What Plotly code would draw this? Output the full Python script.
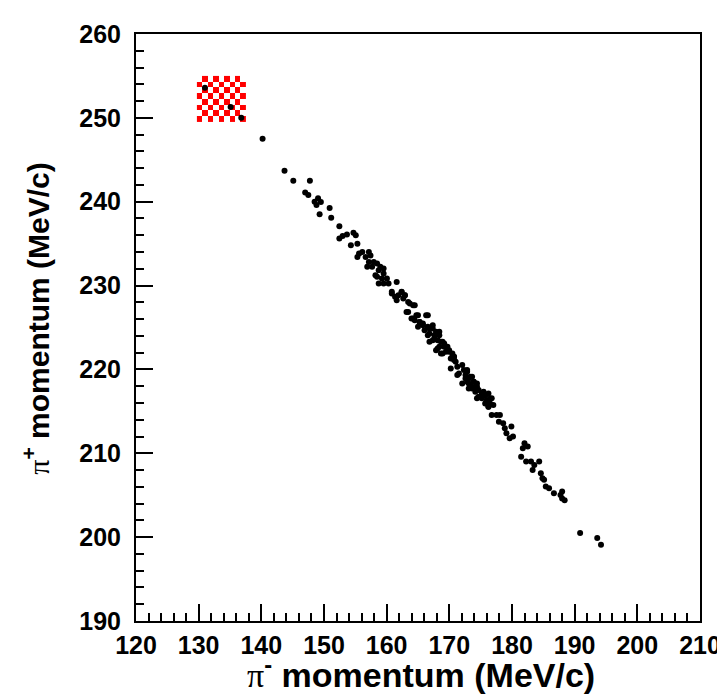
import plotly.graph_objects as go

# pi- momentum (MeV/c) and pi+ momentum (MeV/c)
pi_minus = [
    131.0, 135.1, 136.8, 140.2,
    143.7, 145.1, 147.75, 147.0, 147.5, 149.05, 148.5, 148.8, 149.5, 150.9, 149.3, 151.15, 152.45, 152.97, 152.45,
    153.66, 154.70, 155.07, 154.29, 155.33, 155.59, 156.11, 157.16, 156.64, 157.42, 155.33, 157.16, 157.94, 158.47,
    156.9, 157.68, 158.99, 159.51, 158.73, 158.21, 159.51, 158.47, 159.25, 160.04, 158.73, 159.51, 160.3, 161.6,
    160.82, 162.39, 161.87, 162.91, 161.34,
    162.91, 163.43, 164.22, 163.17, 163.96, 164.74, 164.48, 165.26, 166.57, 165.79, 165.0, 166.05, 166.83, 167.35,
    166.57, 167.62, 167.35, 168.4, 168.14, 168.92, 166.83, 168.4, 169.18, 167.88, 169.45, 168.66, 169.97, 170.49,
    170.75, 170.23,
    170.75, 171.01, 172.06, 172.84, 171.27, 172.58, 173.1, 173.63, 172.84, 173.89, 173.37, 174.15, 174.41, 173.1,
    174.67, 175.46, 175.72, 176.24, 174.41, 175.19, 175.98, 176.76, 175.72, 176.5, 176.24, 176.76, 178.07,
    177.54, 177.91, 178.59, 178.85, 179.11, 179.9, 180.16, 179.63, 181.99, 181.73, 182.51, 181.46, 182.25, 183.03,
    183.56, 183.29, 184.34, 184.6, 184.86, 185.12, 185.39, 185.91, 186.69, 187.74, 188.0,
    188.0, 188.4, 190.87, 193.6, 194.2,
    160.82, 162.38, 161.6, 162.65, 163.69, 164.48, 163.43, 164.21, 165.0, 165.26, 166.3, 165.78, 166.57, 167.35,
    166.83, 167.87, 167.61, 168.4, 168.66, 169.18, 168.13, 169.7, 169.96, 170.49, 168.92, 170.75, 170.23, 171.27,
    171.53, 172.32, 172.84, 172.58, 173.36, 172.06, 173.1, 173.89, 173.62, 174.41, 174.15, 174.67, 175.19, 175.72,
    175.98, 176.5, 177.02, 176.24,
]
pi_plus = [
    253.6, 251.3, 250.0, 247.5,
    243.7, 242.5, 242.5, 241.1, 240.8, 240.4, 240.0, 239.6, 239.96, 239.25, 238.5, 238.1, 237.06, 235.9, 235.6,
    236.08, 236.31, 236.0, 234.8, 235.0, 233.81, 234.0, 234.0, 233.4, 233.6, 233.4, 232.82, 232.82, 232.62,
    232.23, 232.23, 232.23, 232.03, 231.83, 231.23, 231.43, 231.04, 230.84, 230.84, 230.24, 230.24, 230.24, 230.44,
    229.25, 229.25, 228.85, 228.85, 228.66,
    228.85, 228.05, 227.66, 226.86, 226.07, 226.47, 225.87, 225.67, 226.47, 225.27, 225.08, 224.68, 224.88, 225.27,
    224.08, 224.08, 223.49, 224.48, 223.49, 223.29, 223.29, 222.7, 222.7, 222.3, 222.1, 221.9, 222.3, 221.9,
    221.5, 221.3,
    221.51, 220.91, 220.52, 219.92, 219.33, 219.33, 218.93, 219.13, 218.53, 218.53, 218.13, 217.94, 218.33, 217.74,
    217.54, 217.34, 216.94, 217.14, 216.55, 216.55, 216.35, 216.55, 215.95, 215.95, 215.56, 214.56, 214.56,
    214.57, 213.77, 213.57, 212.98, 212.38, 213.18, 211.99, 211.79, 211.19, 210.6, 210.8, 209.6, 209.01, 209.01,
    208.61, 208.02, 209.01, 207.62, 207.03, 206.83, 206.03, 205.84, 205.24, 205.04, 205.44,
    204.6, 204.4, 200.5, 199.9, 199.1,
    229.04, 229.24, 228.25, 228.45, 227.85, 227.66, 226.86, 226.07, 226.47, 225.67, 226.47, 225.47, 225.08, 224.88,
    224.28, 224.48, 223.69, 224.08, 223.29, 223.09, 222.5, 222.7, 222.1, 221.5, 221.9, 221.11, 220.12, 220.31,
    219.52, 219.92, 219.72, 218.93, 219.12, 218.33, 218.33, 218.53, 217.74, 217.93, 217.34, 216.74, 217.14, 216.94,
    216.15, 216.54, 215.75, 215.55,
]

# checkered box region (MeV/c)
box_x = [129.72, 137.56]
box_y = [249.5, 255.0]
box_cols, box_rows = 9, 8

x_range = [120, 210]
y_range = [190, 260]

x_title = "<span style='font-family:Liberation Serif;font-weight:normal'>π</span><sup>-</sup> momentum (MeV/c)"
y_title = "<span style='font-family:Liberation Serif;font-weight:normal'>π</span><sup>+</sup> momentum (MeV/c)"

fig = go.Figure()

dx = (box_x[1] - box_x[0]) / box_cols
dy = (box_y[1] - box_y[0]) / box_rows
z = [[(i + j + 1) % 2 for j in range(box_cols)] for i in range(box_rows)]
fig.add_trace(go.Heatmap(
    z=z, x0=box_x[0] + dx / 2, dx=dx, y0=box_y[0] + dy / 2, dy=dy,
    colorscale=[[0, "white"], [1, "red"]], showscale=False, hoverinfo="skip",
))

fig.add_trace(go.Scatter(
    x=pi_minus, y=pi_plus, mode="markers",
    marker=dict(color="black", size=6),
    showlegend=False,
))

tickfont = dict(family="Liberation Sans", size=25, color="black", weight="bold")

common = dict(
    showgrid=False, zeroline=False, showline=True, linecolor="black", linewidth=2,
    mirror=True, ticks="inside", tickcolor="black", tickwidth=2,
    tickfont=tickfont,
)

fig.update_xaxes(
    range=x_range, dtick=10, ticklen=17, ticklabelstandoff=1,
    minor=dict(dtick=2, ticks="inside", ticklen=8, tickcolor="black", tickwidth=2),
    **common,
)
fig.update_yaxes(
    range=y_range, dtick=10, ticklen=17, ticklabelstandoff=8,
    minor=dict(dtick=2, ticks="inside", ticklen=8, tickcolor="black", tickwidth=2),
    **common,
)

fig.add_annotation(
    text=x_title, xref="paper", yref="paper", x=0.505, y=0,
    xanchor="center", yanchor="bottom", yshift=-75, showarrow=False,
    font=dict(family="Liberation Sans", size=34, color="black", weight="bold"),
)
fig.add_annotation(
    text=y_title, xref="paper", yref="paper", x=0, y=0.515,
    xanchor="center", yanchor="middle", xshift=-100, textangle=-90, showarrow=False,
    font=dict(family="Liberation Sans", size=30, color="black", weight="bold"),
)

fig.update_layout(
    width=725, height=694,
    margin=dict(l=128, r=23, t=25, b=81),
    plot_bgcolor="white", paper_bgcolor="white",
)

fig.write_html("out.html")
